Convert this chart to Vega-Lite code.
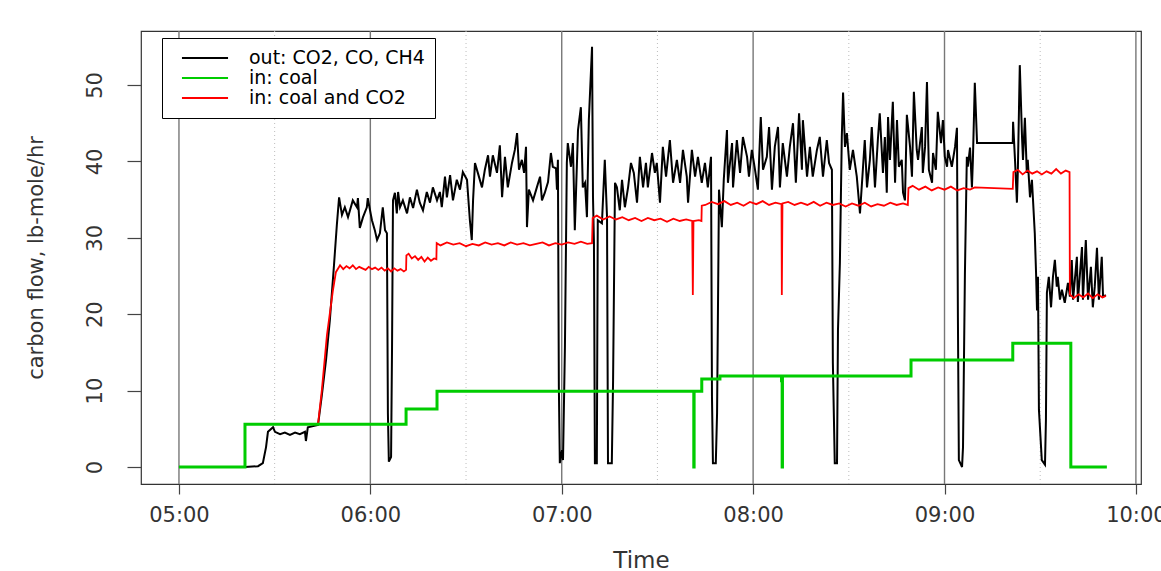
{
"$schema": "https://vega.github.io/schema/vega-lite/v6.json",
"width": 1000, "height": 453,
"autosize": {"type": "none"},
"padding": {"left": 141, "top": 31, "right": 20, "bottom": 87},
"background": "white",
"config": {"view": {"stroke": "#333", "strokeWidth": 1.2}, "font": "DejaVu Sans"},
"datasets": {
"hours": [{"t":0},{"t":60},{"t":120},{"t":180},{"t":240},{"t":300}],
"halves": [{"t":30},{"t":90},{"t":150},{"t":210},{"t":270}],
"out": [
{"t":0,"v":0},{"t":20.7,"v":0},{"t":24.8,"v":0.1},{"t":26.3,"v":0.5},{"t":27.3,"v":2.6},{"t":27.9,"v":4.6},{"t":29.5,"v":5.2},{"t":30.1,"v":4.6},{"t":31.7,"v":4.3},{"t":33.2,"v":4.5},{"t":34.8,"v":4.2},{"t":36.4,"v":4.5},{"t":37.9,"v":4.3},{"t":39.5,"v":4.6},{"t":39.8,"v":3.4},{"t":40.4,"v":5.2},{"t":43.6,"v":5.5},
{"t":44.8,"v":9.4},{"t":46.1,"v":14.0},{"t":47.3,"v":19.2},{"t":48.6,"v":26.4},{"t":49.5,"v":31.7},{"t":50.2,"v":35.3},
{"t":51.1,"v":33.0},{"t":52.0,"v":34.0},{"t":53.0,"v":32.7},{"t":54.5,"v":34.9},{"t":55.8,"v":34.0},{"t":56.1,"v":35.2},{"t":56.7,"v":31.3},{"t":57.7,"v":32.7},{"t":58.9,"v":34.0},{"t":59.2,"v":35.2},{"t":59.9,"v":33.6},{"t":60.5,"v":32.3},{"t":61.4,"v":31.0},{"t":62.1,"v":29.7},{"t":63.0,"v":30.6},{"t":63.9,"v":34.0},{"t":64.6,"v":31.0},{"t":65.2,"v":30.6},
{"t":65.5,"v":7.1},{"t":65.8,"v":0.7},{"t":66.5,"v":1.3},{"t":66.8,"v":15.7},{"t":67.1,"v":34.9},
{"t":67.7,"v":35.9},{"t":68.3,"v":33.2},{"t":68.7,"v":36.0},{"t":69.3,"v":34.0},{"t":70.2,"v":34.9},{"t":71.5,"v":33.2},{"t":72.4,"v":35.3},{"t":73.4,"v":33.9},{"t":74.6,"v":36.3},{"t":75.5,"v":34.6},{"t":76.5,"v":33.6},{"t":77.7,"v":36.0},{"t":78.7,"v":34.6},{"t":79.6,"v":36.6},{"t":80.9,"v":34.9},{"t":81.8,"v":36.0},{"t":82.4,"v":34.0},{"t":83.4,"v":38.0},{"t":84.0,"v":35.3},{"t":85.0,"v":38.2},{"t":85.9,"v":34.9},{"t":87.1,"v":37.6},{"t":88.1,"v":36.3},{"t":89.0,"v":38.6},{"t":90.3,"v":37.6},{"t":91.2,"v":32.3},{"t":91.8,"v":29.7},{"t":92.2,"v":34.9},{"t":92.8,"v":39.8},{"t":93.7,"v":38.5},{"t":95.0,"v":36.6},{"t":95.9,"v":38.9},{"t":96.9,"v":40.8},{"t":97.5,"v":38.0},{"t":98.4,"v":40.8},{"t":99.7,"v":38.5},{"t":100.6,"v":42.1},{"t":101.3,"v":35.3},{"t":102.2,"v":40.6},{"t":103.1,"v":36.6},{"t":104.4,"v":39.8},{"t":105.3,"v":41.5},{"t":106.0,"v":43.7},{"t":106.6,"v":38.9},{"t":107.5,"v":40.2},{"t":108.2,"v":38.5},{"t":108.8,"v":41.9},{"t":109.1,"v":31.4},{"t":109.7,"v":36.3},{"t":111.0,"v":34.9},{"t":112.2,"v":36.6},{"t":113.2,"v":38.0},{"t":113.8,"v":34.9},{"t":114.7,"v":35.9},{"t":115.7,"v":37.3},{"t":116.6,"v":41.1},{"t":117.2,"v":39.3},{"t":118.2,"v":39.1},{"t":118.5,"v":36.3},{"t":118.8,"v":40.2},
{"t":119.1,"v":10.5},{"t":119.4,"v":0.5},{"t":120.1,"v":2.2},{"t":120.4,"v":0.9},{"t":121.0,"v":15.7},{"t":121.6,"v":39.8},{"t":121.9,"v":42.4},{"t":122.9,"v":39.3},{"t":123.5,"v":42.4},{"t":124.1,"v":31.0},{"t":125.1,"v":44.1},{"t":126.0,"v":47.1},{"t":126.6,"v":36.6},{"t":127.3,"v":37.2},{"t":127.9,"v":32.7},{"t":128.5,"v":45.4},{"t":129.5,"v":55.0},{"t":129.8,"v":35.3},{"t":130.1,"v":29.3},{"t":130.4,"v":0.5},{"t":131.0,"v":0.5},{"t":131.3,"v":32.3},{"t":132.6,"v":31.9},{"t":133.5,"v":40.2},{"t":134.2,"v":32.7},{"t":134.5,"v":0.5},{"t":135.7,"v":0.5},{"t":136.1,"v":11.4},{"t":136.7,"v":37.2},
{"t":137.3,"v":36.6},{"t":138.2,"v":33.6},{"t":138.9,"v":37.6},{"t":139.8,"v":34.0},{"t":140.8,"v":36.6},{"t":141.7,"v":39.8},{"t":142.6,"v":38.5},{"t":143.6,"v":34.6},{"t":144.5,"v":40.6},{"t":145.5,"v":36.6},{"t":146.4,"v":39.8},{"t":147.0,"v":36.6},{"t":148.3,"v":41.1},{"t":149.2,"v":38.5},{"t":149.8,"v":39.8},{"t":150.8,"v":34.6},{"t":151.7,"v":41.9},{"t":152.7,"v":38.0},{"t":153.9,"v":42.8},{"t":154.9,"v":37.2},{"t":156.1,"v":40.2},{"t":157.1,"v":37.2},{"t":158.0,"v":41.5},{"t":159.2,"v":38.0},{"t":159.6,"v":34.6},{"t":160.8,"v":41.5},{"t":161.8,"v":38.0},{"t":162.7,"v":40.6},{"t":163.9,"v":37.2},{"t":164.9,"v":39.8},{"t":165.8,"v":36.6},{"t":166.8,"v":40.6},
{"t":167.1,"v":9.2},{"t":167.4,"v":0.5},{"t":168.3,"v":0.5},{"t":168.7,"v":7.1},{"t":169.3,"v":36.3},{"t":170.2,"v":31.4},{"t":170.8,"v":37.6},{"t":171.8,"v":44.1},{"t":172.1,"v":37.2},{"t":173.4,"v":42.4},{"t":173.7,"v":36.6},{"t":174.9,"v":42.8},{"t":175.9,"v":38.5},{"t":176.8,"v":43.2},{"t":178.1,"v":40.6},{"t":178.7,"v":38.0},{"t":179.6,"v":41.5},{"t":180.6,"v":38.9},{"t":181.5,"v":36.3},{"t":182.4,"v":45.8},{"t":183.1,"v":38.9},{"t":184.3,"v":40.6},{"t":185.0,"v":44.5},{"t":185.9,"v":36.3},{"t":186.8,"v":41.9},{"t":187.8,"v":44.5},{"t":188.4,"v":36.6},{"t":189.3,"v":42.4},{"t":190.6,"v":38.0},{"t":191.5,"v":41.9},{"t":192.5,"v":45.0},{"t":193.4,"v":37.2},{"t":194.4,"v":46.3},{"t":195.3,"v":38.9},{"t":195.6,"v":45.4},{"t":196.9,"v":38.0},{"t":197.8,"v":41.9},{"t":198.7,"v":38.0},{"t":200.0,"v":41.5},{"t":200.9,"v":43.2},{"t":201.9,"v":38.0},{"t":203.1,"v":42.8},{"t":203.8,"v":39.8},{"t":204.7,"v":38.9},
{"t":205.0,"v":13.6},{"t":205.6,"v":0.5},{"t":206.3,"v":0.5},{"t":206.6,"v":17.9},{"t":207.2,"v":26.7},{"t":207.8,"v":43.2},{"t":208.2,"v":49.0},{"t":208.8,"v":41.9},{"t":209.4,"v":43.7},{"t":210.3,"v":38.9},{"t":211.3,"v":41.5},{"t":212.5,"v":38.0},{"t":213.5,"v":33.2},{"t":214.4,"v":38.9},{"t":215.0,"v":42.8},{"t":215.7,"v":36.6},{"t":216.6,"v":40.2},{"t":217.2,"v":44.5},{"t":218.2,"v":36.6},{"t":219.1,"v":42.8},{"t":219.7,"v":46.3},{"t":220.7,"v":38.5},{"t":221.3,"v":43.2},{"t":221.9,"v":35.9},{"t":222.3,"v":45.8},{"t":222.9,"v":40.2},{"t":223.8,"v":47.8},{"t":224.5,"v":37.2},{"t":225.1,"v":45.4},{"t":225.7,"v":39.3},{"t":226.6,"v":40.2},{"t":227.0,"v":35.9},{"t":227.6,"v":34.9},{"t":228.2,"v":46.1},{"t":229.2,"v":41.9},{"t":229.8,"v":38.0},{"t":230.4,"v":49.1},{"t":231.3,"v":41.5},{"t":231.7,"v":40.2},{"t":232.9,"v":44.5},{"t":233.2,"v":38.5},{"t":233.9,"v":41.9},{"t":234.5,"v":50.4},{"t":235.1,"v":38.9},{"t":236.1,"v":37.2},{"t":236.4,"v":41.1},{"t":237.3,"v":38.9},{"t":237.9,"v":46.5},{"t":238.9,"v":42.4},{"t":239.5,"v":45.4},{"t":240.1,"v":40.6},{"t":240.8,"v":39.3},{"t":241.1,"v":41.5},{"t":242.3,"v":39.3},{"t":243.3,"v":41.9},{"t":243.9,"v":44.4},
{"t":244.2,"v":19.6},{"t":244.5,"v":0.9},{"t":245.5,"v":0.0},{"t":245.8,"v":2.6},{"t":246.4,"v":25.4},{"t":247.0,"v":40.6},{"t":247.3,"v":39.3},{"t":248.0,"v":41.8},{"t":248.6,"v":36.6},{"t":248.9,"v":40.2},{"t":249.5,"v":50.3},{"t":250.2,"v":42.4},{"t":261.4,"v":42.4},
{"t":261.5,"v":45.2},{"t":262.1,"v":40.2},{"t":262.7,"v":34.6},{"t":263.0,"v":38.9},{"t":263.6,"v":52.6},{"t":264.3,"v":43.2},{"t":264.6,"v":40.2},{"t":265.2,"v":45.7},{"t":265.8,"v":38.5},{"t":266.1,"v":40.2},{"t":266.8,"v":35.3},{"t":267.4,"v":37.6},{"t":267.7,"v":35.3},{"t":268.3,"v":30.6},{"t":268.7,"v":25.4},{"t":269.0,"v":20.5},{"t":269.3,"v":24.9},{"t":269.6,"v":7.5},{"t":270.5,"v":0.9},{"t":271.5,"v":0.3},{"t":271.8,"v":6.2},{"t":272.1,"v":22.8},{"t":272.7,"v":24.9},{"t":273.4,"v":20.9},{"t":274.0,"v":24.9},{"t":274.6,"v":27.1},{"t":275.2,"v":23.6},{"t":275.5,"v":24.9},{"t":276.2,"v":21.9},{"t":276.8,"v":23.2},{"t":277.7,"v":21.5},{"t":278.7,"v":24.1},{"t":279.3,"v":22.3},{"t":279.9,"v":27.1},{"t":280.3,"v":21.9},{"t":281.5,"v":27.5},{"t":281.8,"v":21.6},{"t":283.1,"v":28.8},{"t":283.4,"v":21.9},{"t":284.3,"v":29.7},{"t":285.0,"v":21.9},{"t":285.9,"v":26.2},{"t":286.5,"v":20.9},{"t":287.1,"v":23.6},{"t":287.8,"v":28.7},{"t":288.4,"v":21.9},{"t":289.3,"v":27.5},{"t":289.7,"v":22.3},{"t":290.6,"v":22.5}
],
"co2": [
{"t":43.6,"v":5.6},{"t":44.8,"v":10.1},{"t":46.4,"v":17.3},{"t":48.3,"v":23.2},{"t":49.2,"v":25.5},{"t":50.5,"v":26.4},{"t":51.5,"v":25.9},{"t":52.5,"v":26.3},{"t":53.5,"v":26.0},{"t":54.5,"v":26.4},{"t":55.5,"v":25.9},{"t":56.5,"v":26.2},{"t":57.5,"v":26.0},{"t":58.5,"v":25.8},{"t":59.5,"v":26.2},{"t":60.5,"v":25.9},{"t":61.5,"v":26.1},{"t":62.5,"v":25.8},{"t":63.5,"v":26.1},{"t":64.5,"v":25.7},{"t":65.5,"v":26.0},{"t":66.5,"v":25.6},{"t":67.5,"v":26.0},{"t":68.5,"v":25.7},{"t":69.5,"v":25.9},{"t":70.5,"v":25.6},{"t":71.2,"v":25.8},
{"t":71.3,"v":27.7},{"t":72,"v":27.9},{"t":73,"v":27.3},{"t":74,"v":27.6},{"t":75,"v":27.1},{"t":76,"v":27.5},{"t":77,"v":26.9},{"t":78,"v":27.4},{"t":79,"v":27.0},{"t":80,"v":27.3},{"t":80.7,"v":27.2},
{"t":80.8,"v":29.3},{"t":82,"v":29.0},{"t":84,"v":29.4},{"t":86,"v":29.1},{"t":88,"v":29.3},{"t":90,"v":28.9},{"t":92,"v":29.2},{"t":94,"v":29.0},{"t":96,"v":29.4},{"t":98,"v":29.1},{"t":100,"v":29.3},{"t":102,"v":29.0},{"t":104,"v":29.4},{"t":106,"v":29.1},{"t":108,"v":29.3},{"t":110,"v":29.0},{"t":112,"v":29.2},{"t":114,"v":29.4},{"t":116,"v":29.0},{"t":118,"v":29.3},{"t":120,"v":29.1},{"t":122,"v":29.4},{"t":124,"v":29.2},{"t":126,"v":29.5},{"t":128,"v":29.2},{"t":129.5,"v":29.3},
{"t":129.7,"v":32.6},{"t":131,"v":32.9},{"t":133,"v":32.4},{"t":135,"v":32.8},{"t":137,"v":32.4},{"t":139,"v":32.7},{"t":141,"v":32.3},{"t":143,"v":32.6},{"t":145,"v":32.2},{"t":147,"v":32.6},{"t":149,"v":32.3},{"t":151,"v":32.5},{"t":153,"v":32.1},{"t":155,"v":32.5},{"t":157,"v":32.2},{"t":159,"v":32.4},{"t":160.9,"v":32.2},{"t":161.1,"v":22.5},{"t":161.3,"v":32.2},{"t":163,"v":32.3},{"t":163.8,"v":32.2},
{"t":163.9,"v":34.2},{"t":165,"v":34.3},{"t":167,"v":34.7},{"t":169,"v":34.4},{"t":171,"v":34.8},{"t":173,"v":34.3},{"t":175,"v":34.6},{"t":177,"v":34.2},{"t":179,"v":34.7},{"t":181,"v":34.4},{"t":183,"v":34.8},{"t":185,"v":34.3},{"t":187,"v":34.6},{"t":188.9,"v":34.4},{"t":189.0,"v":22.5},{"t":189.2,"v":34.5},{"t":191,"v":34.7},{"t":193,"v":34.3},{"t":195,"v":34.6},{"t":197,"v":34.3},{"t":199,"v":34.7},{"t":201,"v":34.2},{"t":203,"v":34.6},{"t":205,"v":34.3},{"t":207,"v":34.5},{"t":209,"v":34.1},{"t":211,"v":34.5},{"t":213,"v":34.2},{"t":215,"v":34.6},{"t":217,"v":34.1},{"t":219,"v":34.4},{"t":221,"v":34.2},{"t":223,"v":34.6},{"t":225,"v":34.3},{"t":227,"v":34.5},{"t":228.5,"v":34.3},
{"t":228.7,"v":36.5},{"t":230,"v":36.8},{"t":232,"v":36.3},{"t":234,"v":36.7},{"t":236,"v":36.2},{"t":238,"v":36.6},{"t":240,"v":36.3},{"t":242,"v":36.7},{"t":244,"v":36.2},{"t":246,"v":36.5},{"t":248,"v":36.3},{"t":249.5,"v":36.6},{"t":261.4,"v":36.4},
{"t":261.6,"v":38.6},{"t":263,"v":38.9},{"t":264.5,"v":38.3},{"t":266,"v":38.8},{"t":267.5,"v":38.4},{"t":269,"v":38.7},{"t":270.5,"v":38.3},{"t":272,"v":38.7},{"t":273.5,"v":38.4},{"t":275,"v":39.0},{"t":276.5,"v":38.4},{"t":278,"v":38.8},{"t":279.2,"v":38.6},
{"t":279.3,"v":22.6},{"t":280.5,"v":22.1},{"t":282,"v":22.6},{"t":283.5,"v":22.2},{"t":285,"v":22.7},{"t":286.5,"v":22.1},{"t":288,"v":22.6},{"t":289.5,"v":22.2},{"t":290.6,"v":22.4}
],
"coal": [
{"t":0,"v":0},{"t":20.7,"v":0},{"t":20.7,"v":5.6},{"t":71.2,"v":5.6},{"t":71.2,"v":7.6},{"t":80.9,"v":7.6},{"t":80.9,"v":9.9},{"t":161.4,"v":9.9},{"t":161.4,"v":0},{"t":161.5,"v":0},{"t":161.5,"v":9.9},{"t":163.9,"v":9.9},{"t":163.9,"v":11.5},{"t":169.6,"v":11.5},{"t":169.6,"v":11.9},{"t":188.9,"v":11.9},{"t":188.9,"v":11.3},{"t":189.1,"v":11.3},{"t":189.1,"v":0},{"t":189.2,"v":0},{"t":189.2,"v":11.9},{"t":229.5,"v":11.9},{"t":229.5,"v":14.0},{"t":261.4,"v":14.0},{"t":261.4,"v":16.2},{"t":279.6,"v":16.2},{"t":279.6,"v":0},{"t":290.9,"v":0}
]
},
"layer": [
{"data": {"name": "halves"}, "mark": {"type": "rule", "color": "#bdbdbd", "strokeWidth": 1, "strokeDash": [1, 3]},
 "encoding": {"x": {"field": "t", "type": "quantitative", "title": "Time",
   "scale": {"domain": [-11.9, 301.6], "nice": false, "zero": false},
   "axis": {"values": [0, 60, 120, 180, 240, 300], "grid": false, "domain": false, "tickSize": 10, "tickColor": "#444", "tickWidth": 1.2,
     "labelExpr": "(datum.value < 300 ? '0' : '') + (5 + datum.value / 60) + ':00'",
     "labelPadding": 10, "labelFontSize": 21, "labelFont": "DejaVu Sans", "labelColor": "#333", "labelFlush": false, "labelOverlap": false,
     "titleFontSize": 23, "titleFont": "DejaVu Sans", "titleFontWeight": "normal", "titleColor": "#333", "titlePadding": 24}}}},
{"data": {"name": "hours"}, "mark": {"type": "rule", "color": "#777777", "strokeWidth": 1.4},
 "encoding": {"x": {"field": "t", "type": "quantitative", "title": "Time"}}},
{"data": {"name": "out"}, "mark": {"type": "line", "strokeWidth": 2},
 "encoding": {
  "x": {"field": "t", "type": "quantitative", "title": "Time"},
  "y": {"field": "v", "type": "quantitative", "title": "carbon flow, lb-mole/hr",
    "scale": {"domain": [-2.23, 57.07], "nice": false, "zero": false},
    "axis": {"values": [0, 10, 20, 30, 40, 50], "grid": false, "domain": false, "tickSize": 14, "tickColor": "#444", "tickWidth": 1.2,
      "labelAngle": -90, "labelAlign": "center", "labelBaseline": "bottom", "labelPadding": 22, "labelFontSize": 21, "labelFont": "DejaVu Sans", "labelColor": "#333", "labelFlush": false,
      "titleFontSize": 21, "titleFont": "DejaVu Sans", "titleFontWeight": "normal", "titleColor": "#333", "titlePadding": 38}},
  "color": {"datum": "out: CO2, CO, CH4", "type": "nominal",
    "scale": {"domain": ["out: CO2, CO, CH4", "in: coal", "in: coal and CO2"], "range": ["#000000", "#00cc00", "#ff0000"]},
    "legend": {"title": null, "orient": "none", "legendX": 21, "legendY": 7, "direction": "vertical",
      "strokeColor": "#000", "fillColor": "#fff", "padding": 10, "symbolOffset": 23, "symbolType": "M-2.56,0H2.56", "symbolSize": 324,
      "symbolStrokeWidth": 2, "labelFontSize": 19, "labelFont": "DejaVu Sans", "labelColor": "#000", "labelOffset": 34, "rowPadding": 0, "labelLimit": 400}},
  "order": {"value": null}}},
{"data": {"name": "co2"}, "mark": {"type": "line", "strokeWidth": 1.8},
 "encoding": {
  "x": {"field": "t", "type": "quantitative", "title": "Time"},
  "y": {"field": "v", "type": "quantitative", "title": "carbon flow, lb-mole/hr"},
  "color": {"datum": "in: coal and CO2", "type": "nominal"},
  "order": {"value": null}}},
{"data": {"name": "coal"}, "mark": {"type": "line", "strokeWidth": 3},
 "encoding": {
  "x": {"field": "t", "type": "quantitative", "title": "Time"},
  "y": {"field": "v", "type": "quantitative", "title": "carbon flow, lb-mole/hr"},
  "color": {"datum": "in: coal", "type": "nominal"},
  "order": {"value": null}}}
]
}
